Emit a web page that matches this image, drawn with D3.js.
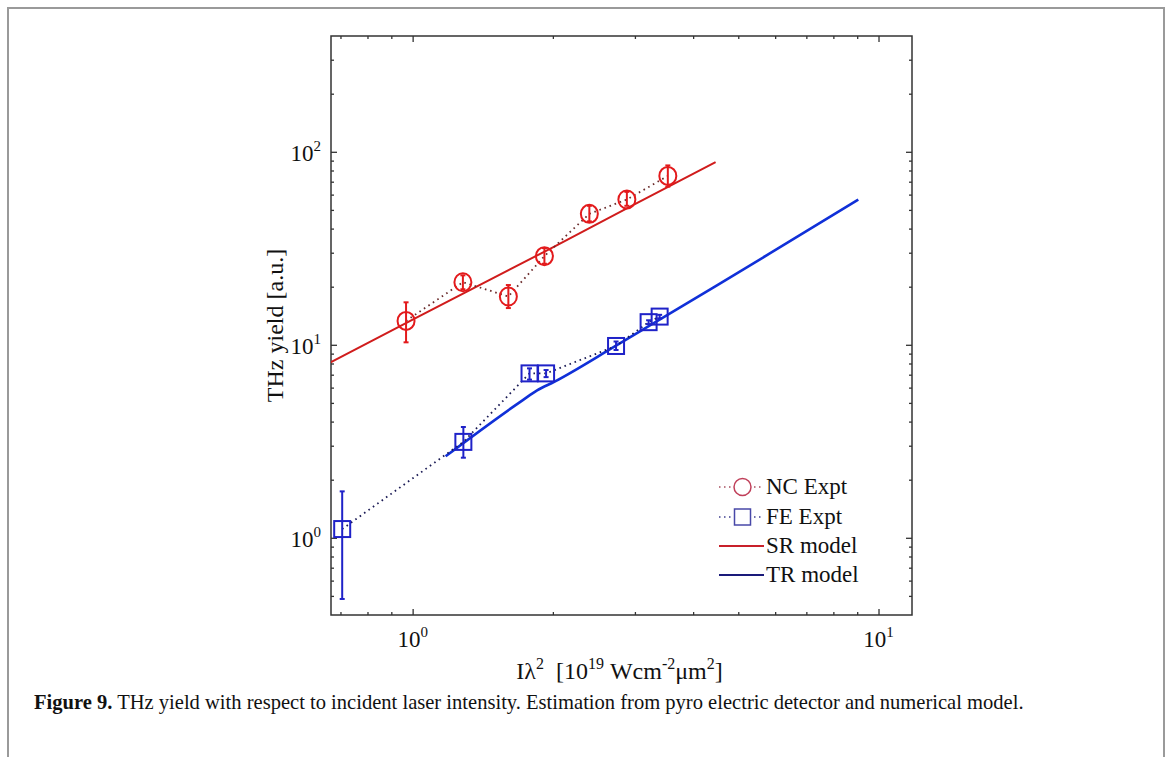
<!DOCTYPE html>
<html>
<head>
<meta charset="utf-8">
<script src="https://cdn.jsdelivr.net/npm/d3@7"></script>
<style>
  html, body { margin: 0; padding: 0; background: #fff; }
  svg { display: block; }
  text { font-family: "Liberation Serif", "DejaVu Serif", serif; fill: #111; }
</style>
</head>
<body>
<svg id="chart" width="1170" height="757"></svg>
<script>
// ---------------- data ----------------
const ncX      = [0.968, 1.282, 1.605, 1.918, 2.395, 2.883, 3.53];
const ncY      = [13.3, 21.1, 17.8, 28.8, 47.7, 56.6, 75.0];
const ncErrLo  = [10.3, 19.4, 15.5, 26.3, 43.6, 52.5, 66.0];
const ncErrHi  = [16.6, 22.9, 20.4, 31.7, 52.5, 62.0, 85.0];

const feX      = [0.706, 1.285, 1.782, 1.934, 2.733, 3.21, 3.39];
const feY      = [1.11, 3.14, 7.11, 7.11, 9.86, 13.1, 14.0];
const feErrLo  = [0.482, 2.60, 6.60, 6.80, 9.40, 12.8, 13.7];
const feErrHi  = [1.74, 3.75, 7.55, 7.40, 10.4, 13.4, 14.3];

const srX = [0.66, 1.0, 2.0, 3.0, 4.47];
const srY = [8.0, 13.5, 32.0, 53.5, 88.3];

const trX = [1.177, 1.724, 1.85, 2.013, 2.733, 4.5, 9.05];
const trY = [2.645, 5.17, 5.8, 6.43, 9.9, 20.3, 56.5];

const xMajorTicks = [1, 10];
const xMinorTicks = [0.7, 0.8, 0.9, 2, 3, 4, 5, 6, 7, 8, 9];
const yMajorTicks = [1, 10, 100];
const yMinorTicks = [0.5, 0.6, 0.7, 0.8, 0.9, 2, 3, 4, 5, 6, 7, 8, 9,
                     20, 30, 40, 50, 60, 70, 80, 90, 200, 300];
const tickExponents = {1: "0", 10: "1", 100: "2"};

const legendLabels = ["NC Expt", "FE Expt", "SR model", "TR model"];
const xTitle = ["I\u03bb", "2", "  [10", "19", " Wcm", "-2", "\u03bcm", "2", "]"];
const yTitle = "THz yield [a.u.]";
const captionBold = "Figure 9.";
const captionText = " THz yield with respect to incident laser intensity. Estimation from pyro electric detector and numerical model.";

// ---------------- layout ----------------
const svg = d3.select("#chart");
const L = 331, R = 912, T = 36, B = 615;

const x = d3.scaleLog().domain([0.668, 11.8]).range([L, R]);
const y = d3.scaleLog().domain([Math.pow(10, -0.4), Math.pow(10, 2.6)]).range([B, T]);

// outer figure border
svg.append("path")
  .attr("d", `M8,757 L8,8 L1164,8 L1164,757`)
  .attr("fill", "none").attr("stroke", "#9a9a9a").attr("stroke-width", 2);

// clip
svg.append("clipPath").attr("id", "clip")
  .append("rect").attr("x", L).attr("y", T).attr("width", R - L).attr("height", B - T);

// axes (ticks inward)
function addAxis(axisFn, transform, ticks, size) {
  const a = axisFn.tickValues(ticks).tickSize(size).tickFormat("");
  const g = svg.append("g").attr("transform", transform).call(a);
  g.select(".domain").remove();
  g.selectAll(".tick line").attr("stroke", "#333").attr("stroke-width", 1.3);
  return g;
}
addAxis(d3.axisBottom(x), `translate(0,${B})`, xMajorTicks, -6);
addAxis(d3.axisBottom(x), `translate(0,${B})`, xMinorTicks, -3);
addAxis(d3.axisTop(x), `translate(0,${T})`, xMajorTicks, -6);
addAxis(d3.axisTop(x), `translate(0,${T})`, xMinorTicks, -3);
addAxis(d3.axisLeft(y), `translate(${L},0)`, yMajorTicks, -6);
addAxis(d3.axisLeft(y), `translate(${L},0)`, yMinorTicks, -3);
addAxis(d3.axisRight(y), `translate(${R},0)`, yMajorTicks, -6);
addAxis(d3.axisRight(y), `translate(${R},0)`, yMinorTicks, -3);

svg.append("rect").attr("x", L).attr("y", T).attr("width", R - L).attr("height", B - T)
  .attr("fill", "none").attr("stroke", "#333").attr("stroke-width", 1.5);

// tick labels
xMajorTicks.forEach(v => {
  const t = svg.append("text").attr("x", x(v)).attr("y", B + 32)
    .attr("text-anchor", "middle").style("font-size", "23px");
  t.append("tspan").text("10");
  t.append("tspan").attr("dy", -10).style("font-size", "15px").text(tickExponents[v]);
});
yMajorTicks.forEach(v => {
  const t = svg.append("text").attr("x", L - 10).attr("y", y(v) + 9)
    .attr("text-anchor", "end").style("font-size", "23px");
  t.append("tspan").text("10");
  t.append("tspan").attr("dy", -10).style("font-size", "15px").text(tickExponents[v]);
});

// axis titles
const xt = svg.append("text").attr("x", (L + R) / 2 - 2).attr("y", 679)
  .attr("text-anchor", "middle").style("font-size", "24px").attr("xml:space", "preserve")
  .style("white-space", "pre");
xTitle.forEach((s, i) => {
  const sup = i % 2 === 1;
  const ts = xt.append("tspan").text(s);
  if (sup) ts.attr("dy", -10).style("font-size", "16px");
  else if (i > 0) ts.attr("dy", 10);
});
svg.append("text")
  .attr("transform", `translate(283,${(T + B) / 2}) rotate(-90)`)
  .attr("text-anchor", "middle").style("font-size", "24px").text(yTitle);

// ---------------- marks ----------------
const plot = svg.append("g").attr("clip-path", "url(#clip)");
const line = d3.line().curve(d3.curveMonotoneX).x(d => x(d[0])).y(d => y(d[1]));
const straight = d3.line().x(d => x(d[0])).y(d => y(d[1]));

const RED_MARK = "#e31a1c", RED_LINE = "#d01c1c";
const BLUE_MARK = "#1f22c8", BLUE_LINE = "#1030d8";

// model lines
plot.append("path").datum(d3.zip(srX, srY)).attr("d", straight)
  .attr("fill", "none").attr("stroke", RED_LINE).attr("stroke-width", 2);
plot.append("path").datum(d3.zip(trX, trY)).attr("d", line)
  .attr("fill", "none").attr("stroke", BLUE_LINE).attr("stroke-width", 2.6);

// dotted connecting lines
plot.append("path").datum(d3.zip(ncX, ncY)).attr("d", straight)
  .attr("fill", "none").attr("stroke", "#6a2a2a").attr("stroke-width", 1.8)
  .attr("stroke-dasharray", "1.6,3.8");
plot.append("path").datum(d3.zip(feX, feY)).attr("d", straight)
  .attr("fill", "none").attr("stroke", "#1a1a55").attr("stroke-width", 1.8)
  .attr("stroke-dasharray", "1.6,3.8");

// error bars
function errorBars(xs, lo, hi, color) {
  const g = plot.append("g").attr("stroke", color).attr("stroke-width", 2).attr("fill", "none");
  xs.forEach((xv, i) => {
    const cx = x(xv);
    g.append("line").attr("x1", cx).attr("x2", cx).attr("y1", y(lo[i])).attr("y2", y(hi[i]));
    g.append("line").attr("x1", cx - 2.5).attr("x2", cx + 2.5).attr("y1", y(lo[i])).attr("y2", y(lo[i]));
    g.append("line").attr("x1", cx - 2.5).attr("x2", cx + 2.5).attr("y1", y(hi[i])).attr("y2", y(hi[i]));
  });
}
errorBars(ncX, ncErrLo, ncErrHi, RED_MARK);
errorBars(feX, feErrLo, feErrHi, BLUE_MARK);

// markers
plot.selectAll(".nc").data(d3.zip(ncX, ncY)).join("ellipse")
  .attr("cx", d => x(d[0])).attr("cy", d => y(d[1])).attr("rx", 8.5).attr("ry", 9)
  .attr("fill", "none").attr("stroke", RED_MARK).attr("stroke-width", 2);
plot.selectAll(".fe").data(d3.zip(feX, feY)).join("rect")
  .attr("x", d => x(d[0]) - 8).attr("y", d => y(d[1]) - 8)
  .attr("width", 16).attr("height", 16)
  .attr("fill", "none").attr("stroke", BLUE_MARK).attr("stroke-width", 2);

// ---------------- legend ----------------
const lg = svg.append("g");
const lx0 = 719, lx1 = 764, lmid = 742.5;
const rows = [487, 517, 546, 575];
const legendStyles = [
  {dot: "#a85060", mark: "circle", mc: "#c0405a"},
  {dot: "#404090", mark: "square", mc: "#4848a8"},
  {solid: "#c8202a"},
  {solid: "#1a1a7a"}
];
legendLabels.forEach((lab, i) => {
  const ry = rows[i], st = legendStyles[i];
  if (st.solid) {
    lg.append("line").attr("x1", lx0).attr("x2", lx1).attr("y1", ry).attr("y2", ry)
      .attr("stroke", st.solid).attr("stroke-width", 2.2);
  } else {
    lg.append("line").attr("x1", lx0).attr("x2", lx1).attr("y1", ry).attr("y2", ry)
      .attr("stroke", st.dot).attr("stroke-width", 1.6).attr("stroke-dasharray", "1.5,3.5");
    if (st.mark === "circle") {
      lg.append("circle").attr("cx", lmid).attr("cy", ry).attr("r", 8.5)
        .attr("fill", "#fff").attr("stroke", st.mc).attr("stroke-width", 1.5);
    } else {
      lg.append("rect").attr("x", lmid - 8).attr("y", ry - 8).attr("width", 16).attr("height", 16)
        .attr("fill", "#fff").attr("stroke", st.mc).attr("stroke-width", 1.5);
    }
  }
  lg.append("text").attr("x", 766).attr("y", ry + 7).style("font-size", "23px").text(lab);
});

// ---------------- caption ----------------
const cap = svg.append("text").attr("x", 34).attr("y", 709).style("font-size", "18px");
cap.append("tspan").style("font-weight", "bold").text(captionBold);
cap.append("tspan").text(captionText);
const w = cap.node().getComputedTextLength();
cap.style("font-size", (18 * 990 / w).toFixed(2) + "px");
</script>
</body>
</html>
